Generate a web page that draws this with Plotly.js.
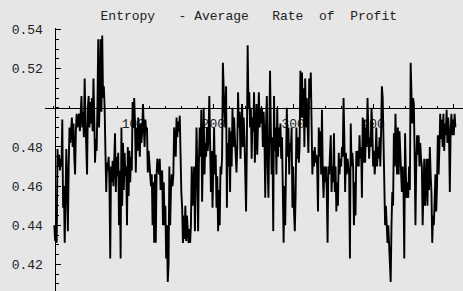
<!DOCTYPE html>
<html>
<head>
<meta charset="utf-8">
<script src="https://cdn.plot.ly/plotly-3.0.1.min.js"></script>
<style>html,body{margin:0;padding:0;background:#e6e6e6;}#chart{width:463px;height:291px;}</style>
</head>
<body>
<div id="chart"></div>
<script>
// Entropy - Average Rate of Profit (estimated)
const entropyValues = [
0.440,0.432,0.438,0.431,0.479,0.470,0.476,0.468,0.474,0.470,
0.494,0.449,0.460,0.431,0.452,0.479,0.462,0.437,0.470,0.490,
0.482,0.490,0.495,0.480,0.492,0.475,0.466,0.488,0.497,0.490,
0.493,0.497,0.488,0.495,0.506,0.490,0.498,0.485,0.515,0.494,
0.480,0.466,0.500,0.506,0.490,0.503,0.492,0.505,0.488,0.515,
0.496,0.472,0.484,0.478,0.502,0.535,0.490,0.505,0.535,0.498,
0.537,0.505,0.511,0.500,0.477,0.457,0.472,0.468,0.475,0.462,
0.423,0.470,0.462,0.473,0.460,0.470,0.487,0.457,0.475,0.465,
0.477,0.440,0.468,0.423,0.490,0.450,0.482,0.458,0.477,0.465,
0.470,0.440,0.480,0.455,0.478,0.462,0.475,0.468,0.503,0.490,
0.505,0.492,0.467,0.490,0.478,0.495,0.485,0.475,0.492,0.482,
0.488,0.502,0.490,0.480,0.494,0.488,0.490,0.467,0.478,0.470,
0.466,0.460,0.466,0.440,0.462,0.431,0.466,0.431,0.466,0.474,
0.470,0.466,0.474,0.458,0.466,0.468,0.440,0.462,0.440,0.450,
0.423,0.440,0.411,0.420,0.470,0.440,0.458,0.466,0.460,0.466,
0.490,0.476,0.475,0.495,0.485,0.493,0.488,0.496,0.466,0.457,
0.449,0.431,0.445,0.433,0.450,0.432,0.445,0.440,0.431,0.438,
0.431,0.440,0.470,0.450,0.462,0.470,0.437,0.462,0.490,0.468,
0.437,0.472,0.490,0.475,0.499,0.452,0.480,0.500,0.466,0.482,
0.475,0.490,0.478,0.485,0.506,0.470,0.457,0.478,0.449,0.468,
0.490,0.466,0.476,0.449,0.465,0.437,0.458,0.440,0.470,0.466,
0.475,0.523,0.500,0.497,0.490,0.511,0.449,0.482,0.470,0.490,
0.457,0.488,0.470,0.500,0.480,0.495,0.485,0.476,0.467,0.480,
0.508,0.490,0.498,0.474,0.490,0.502,0.480,0.495,0.485,0.470,
0.447,0.480,0.532,0.500,0.508,0.490,0.500,0.474,0.495,0.488,
0.508,0.472,0.490,0.502,0.476,0.495,0.508,0.490,0.500,0.492,
0.500,0.480,0.498,0.485,0.454,0.492,0.506,0.470,0.454,0.485,
0.519,0.490,0.466,0.485,0.437,0.506,0.478,0.490,0.466,0.500,
0.475,0.490,0.480,0.492,0.474,0.485,0.450,0.431,0.460,0.440,
0.470,0.500,0.475,0.490,0.466,0.482,0.478,0.490,0.449,0.470,
0.447,0.437,0.455,0.490,0.474,0.485,0.472,0.480,0.519,0.495,
0.518,0.495,0.510,0.480,0.515,0.490,0.505,0.495,0.477,0.515,
0.505,0.518,0.490,0.466,0.478,0.470,0.480,0.472,0.476,0.470,
0.447,0.490,0.475,0.488,0.466,0.499,0.466,0.454,0.470,0.462,
0.470,0.457,0.431,0.470,0.466,0.474,0.486,0.457,0.470,0.462,
0.487,0.457,0.470,0.447,0.462,0.450,0.477,0.466,0.474,0.470,
0.480,0.475,0.505,0.485,0.457,0.477,0.466,0.474,0.470,0.466,
0.423,0.492,0.470,0.477,0.470,0.440,0.462,0.445,0.478,0.470,
0.478,0.470,0.486,0.474,0.480,0.454,0.495,0.472,0.494,0.472,
0.490,0.480,0.505,0.490,0.474,0.485,0.480,0.500,0.490,0.470,
0.478,0.466,0.474,0.490,0.470,0.480,0.474,0.485,0.470,0.488,
0.511,0.505,0.474,0.457,0.440,0.450,0.436,0.431,0.440,0.431,
0.420,0.411,0.440,0.457,0.450,0.487,0.470,0.497,0.478,0.466,
0.490,0.466,0.488,0.475,0.470,0.457,0.470,0.460,0.423,0.487,
0.466,0.454,0.462,0.454,0.470,0.458,0.523,0.500,0.492,0.505,
0.502,0.474,0.440,0.472,0.486,0.476,0.486,0.470,0.482,0.474,
0.470,0.440,0.466,0.474,0.450,0.468,0.474,0.450,0.474,0.458,
0.480,0.466,0.457,0.431,0.445,0.440,0.460,0.466,0.447,0.460,
0.486,0.466,0.480,0.497,0.484,0.494,0.480,0.497,0.478,0.492,
0.486,0.499,0.482,0.495,0.486,0.457,0.488,0.497,0.486,0.494,
0.486,0.497,0.490
];
const periods = entropyValues.map((v, i) => i + 1);
const xTickVals = [100, 200, 300, 400, 500];
const xTickText = ["100", "200", "300", "400", "500"];
const yTickVals = [0.42, 0.44, 0.46, 0.48, 0.52, 0.54];
const yTickText = ["0.42", "0.44", "0.46", "0.48", "0.52", "0.54"];
const titleText = "Entropy   - Average   Rate  of  Profit";

const xRange = [-10.64, 512.5];
const yRange = [0.4064, 0.5408];
const axisFont = {family: "Liberation Mono, Courier New, monospace", size: 13, color: "#222"};

const trace = {
  x: periods, y: entropyValues, type: "scatter", mode: "lines",
  line: {color: "#000", width: 1.9}, hoverinfo: "skip"
};

const layout = {
  width: 463, height: 291,
  margin: {l: 45, r: 0, t: 28, b: 0, pad: 0},
  paper_bgcolor: "#e6e6e6", plot_bgcolor: "#e6e6e6",
  showlegend: false,
  title: {
    text: titleText.replace(/ /g, "\u00a0"),
    font: axisFont,
    xref: "container", yref: "container",
    x: 248.8 / 463, xanchor: "center",
    y: 1 - 15 / 291, yanchor: "middle"
  },
  xaxis: {
    range: xRange, anchor: "free",
    position: (0.5 - yRange[0]) / (yRange[1] - yRange[0]),
    showgrid: false, zeroline: false,
    showline: true, linecolor: "#000", linewidth: 1.5,
    tickmode: "array", tickvals: xTickVals, ticktext: xTickText,
    ticks: "inside", ticklen: 4, tickwidth: 1, tickcolor: "#000",
    minor: {tickmode: "linear", tick0: 0, dtick: 20, ticks: "inside", ticklen: 2, tickwidth: 1, tickcolor: "#000"},
    tickfont: axisFont, ticklabelstandoff: 3,
    layer: "below traces", fixedrange: true
  },
  yaxis: {
    range: yRange, anchor: "free",
    position: 9.5 / 418,
    showgrid: false, zeroline: false,
    showline: true, linecolor: "#000", linewidth: 1.5,
    tickmode: "array", tickvals: yTickVals, ticktext: yTickText,
    ticks: "inside", ticklen: 5, tickwidth: 1, tickcolor: "#000",
    minor: {tickmode: "linear", tick0: 0.4, dtick: 0.005, ticks: "inside", ticklen: 3, tickwidth: 1, tickcolor: "#000"},
    tickfont: axisFont, ticklabelstandoff: 9,
    layer: "below traces", fixedrange: true
  }
};

Plotly.newPlot("chart", [trace], layout, {displayModeBar: false, staticPlot: true});
</script>
</body>
</html>
